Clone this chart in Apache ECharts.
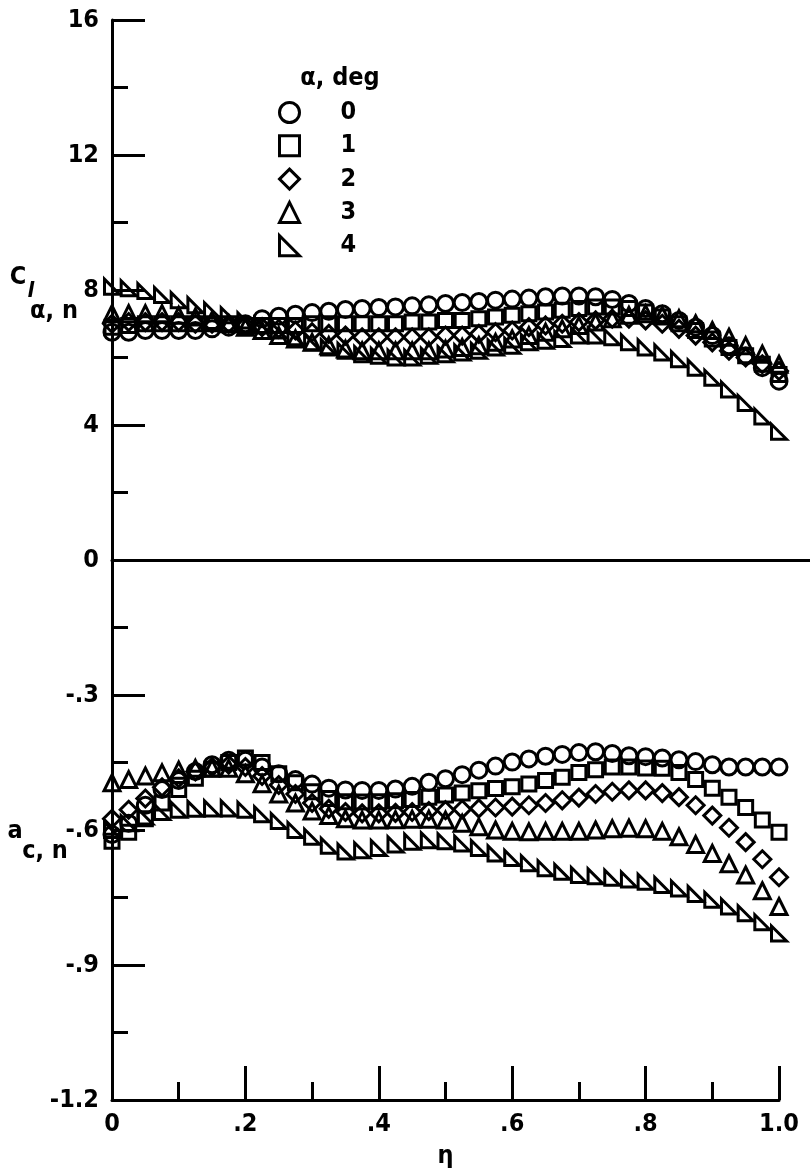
<!DOCTYPE html>
<html>
<head>
<meta charset="utf-8">
<script src="https://cdn.jsdelivr.net/npm/echarts@6/dist/echarts.min.js"></script>
<style>
html,body{margin:0;padding:0;background:#fff;}
#chart{width:810px;height:1174px;}
</style>
</head>
<body>
<div id="chart"></div>
<script>
// spanwise station eta
var eta = [0,0.025,0.05,0.075,0.1,0.125,0.15,0.175,0.2,0.225,0.25,0.275,0.3,0.325,0.35,0.375,0.4,0.425,0.45,0.475,0.5,0.525,0.55,0.575,0.6,0.625,0.65,0.675,0.7,0.725,0.75,0.775,0.8,0.825,0.85,0.875,0.9,0.925,0.95,0.975,1.0];
var alphaNames = ['0','1','2','3','4'];

// C_l alpha,n (upper panel)
var cla0 = [6.75,6.75,6.8,6.8,6.8,6.8,6.85,6.9,7.0,7.15,7.22,7.28,7.33,7.37,7.42,7.45,7.48,7.5,7.53,7.56,7.6,7.63,7.66,7.7,7.73,7.76,7.8,7.82,7.82,7.8,7.72,7.6,7.45,7.3,7.1,6.9,6.65,6.35,6.05,5.7,5.3];
var cla1 = [6.9,6.95,7.0,7.0,7.0,7.0,7.0,7.0,6.95,6.95,6.95,6.95,7.0,7.0,7.0,7.0,7.0,7.0,7.05,7.05,7.1,7.1,7.15,7.2,7.25,7.3,7.35,7.4,7.45,7.5,7.5,7.45,7.35,7.2,7.0,6.8,6.55,6.3,6.05,5.8,5.5];
var cla2 = [7.0,7.05,7.05,7.05,7.05,7.0,7.0,7.0,6.95,6.9,6.85,6.8,6.75,6.7,6.65,6.6,6.6,6.6,6.6,6.6,6.65,6.65,6.7,6.75,6.8,6.9,6.95,7.0,7.05,7.1,7.15,7.15,7.1,7.0,6.85,6.65,6.45,6.2,6.0,5.8,5.6];
var cla3 = [7.3,7.3,7.3,7.3,7.25,7.2,7.1,7.0,6.9,6.8,6.65,6.55,6.45,6.35,6.25,6.2,6.2,6.2,6.2,6.2,6.25,6.3,6.35,6.45,6.55,6.65,6.75,6.85,6.95,7.05,7.15,7.25,7.3,7.25,7.15,7.0,6.8,6.6,6.35,6.1,5.8];
var cla4 = [8.1,8.05,7.97,7.85,7.7,7.55,7.4,7.25,7.1,6.95,6.8,6.6,6.45,6.3,6.2,6.1,6.05,6.0,6.0,6.05,6.1,6.15,6.2,6.3,6.35,6.45,6.5,6.55,6.65,6.65,6.6,6.45,6.3,6.15,5.95,5.7,5.4,5.05,4.65,4.25,3.8];

// a_c,n (lower panel)
var ac0 = [-0.61,-0.585,-0.545,-0.51,-0.49,-0.47,-0.455,-0.445,-0.445,-0.46,-0.475,-0.488,-0.498,-0.507,-0.511,-0.512,-0.512,-0.509,-0.503,-0.494,-0.486,-0.477,-0.467,-0.458,-0.449,-0.442,-0.436,-0.432,-0.428,-0.426,-0.43,-0.435,-0.437,-0.44,-0.444,-0.448,-0.455,-0.46,-0.46,-0.46,-0.46];
var ac1 = [-0.625,-0.605,-0.575,-0.54,-0.51,-0.485,-0.465,-0.45,-0.44,-0.45,-0.475,-0.495,-0.515,-0.53,-0.537,-0.538,-0.537,-0.535,-0.532,-0.527,-0.522,-0.518,-0.513,-0.508,-0.504,-0.498,-0.49,-0.483,-0.472,-0.466,-0.46,-0.46,-0.462,-0.463,-0.472,-0.488,-0.507,-0.527,-0.55,-0.578,-0.605];
var ac2 = [-0.575,-0.555,-0.53,-0.505,-0.485,-0.47,-0.46,-0.455,-0.46,-0.48,-0.5,-0.52,-0.54,-0.553,-0.56,-0.563,-0.563,-0.562,-0.56,-0.558,-0.556,-0.554,-0.552,-0.55,-0.548,-0.545,-0.54,-0.534,-0.528,-0.52,-0.515,-0.512,-0.512,-0.518,-0.527,-0.545,-0.568,-0.595,-0.627,-0.665,-0.705];
var ac3 = [-0.495,-0.488,-0.48,-0.473,-0.467,-0.463,-0.462,-0.463,-0.475,-0.497,-0.52,-0.54,-0.558,-0.568,-0.575,-0.578,-0.578,-0.577,-0.576,-0.576,-0.578,-0.585,-0.593,-0.6,-0.603,-0.604,-0.603,-0.603,-0.603,-0.6,-0.597,-0.596,-0.597,-0.603,-0.615,-0.632,-0.652,-0.675,-0.7,-0.735,-0.77];
var ac4 = [-0.6,-0.585,-0.57,-0.56,-0.555,-0.553,-0.552,-0.552,-0.555,-0.565,-0.58,-0.6,-0.615,-0.635,-0.648,-0.645,-0.64,-0.632,-0.626,-0.623,-0.625,-0.63,-0.64,-0.652,-0.662,-0.674,-0.685,-0.693,-0.7,-0.703,-0.706,-0.71,-0.715,-0.722,-0.73,-0.742,-0.755,-0.77,-0.785,-0.805,-0.83];

var yTopTicks = [0,4,8,12,16];
var xTickLabels = {0:'0',0.2:'.2',0.4:'.4',0.6:'.6',0.8:'.8',1:'1.0'};

var FONT = "'Liberation Sans Narrow','DejaVu Sans Condensed','Arial Narrow',sans-serif";
var INK = '#000';
var symbols = ['circle','rect','diamond','triangle','path://M0,0 L0,10 L10,10 Z'];
var sizes = [16,14,17,16,15];

function pairs(ys){ return eta.map(function(x,i){ return [x, ys[i]]; }); }

var upper = [cla0,cla1,cla2,cla3,cla4];
var lower = [ac0,ac1,ac2,ac3,ac4];
var series = [];
function mk(name, idx, data, gi){
  return {
    type:'scatter', name:name, xAxisIndex:gi, yAxisIndex:gi,
    data:pairs(data), symbol:symbols[idx], symbolSize:sizes[idx],
    itemStyle:{color:'rgba(255,255,255,0)', borderColor:INK, borderWidth:3, opacity:1},
    emphasis:{disabled:true}, silent:true
  };
}
for (var i=0;i<5;i++){ series.push(mk(alphaNames[i], i, upper[i], 0)); }
for (var j=0;j<5;j++){ series.push(mk(alphaNames[j], j, lower[j], 1)); }

var axisLineStyle = {color:INK, width:3};
var labelStyle = {color:INK, fontFamily:FONT, fontSize:25, fontWeight:'bold'};

var chart = echarts.init(document.getElementById('chart'), null, {renderer:'canvas'});
chart.setOption({
  animation:false,
  backgroundColor:'#fff',
  grid:[
    {left:112, top:20, width:698, height:540},
    {left:112, top:560, width:667, height:540}
  ],
  xAxis:[
    {type:'value', gridIndex:0, min:0, max:698/667, axisLine:{show:true, onZero:false, lineStyle:axisLineStyle},
     axisTick:{show:false}, axisLabel:{show:false}, splitLine:{show:false}},
    {type:'value', gridIndex:1, min:0, max:1, interval:0.2,
     axisLine:{show:true, onZero:false, lineStyle:axisLineStyle},
     axisTick:{show:true, inside:true, length:34, lineStyle:axisLineStyle},
     minorTick:{show:true, splitNumber:2, length:18, lineStyle:axisLineStyle},
     splitLine:{show:false},
     axisLabel:Object.assign({margin:12, formatter:function(v){ var k=Math.round(v*10)/10; return xTickLabels[k]!==undefined?xTickLabels[k]:''; }}, labelStyle),
     name:'η', nameLocation:'middle', nameGap:44, nameTextStyle:labelStyle}
  ],
  yAxis:[
    {type:'value', gridIndex:0, min:0, max:16, interval:4,
     axisLine:{show:true, onZero:false, lineStyle:axisLineStyle},
     axisTick:{show:true, inside:true, length:33, lineStyle:axisLineStyle},
     minorTick:{show:true, splitNumber:2, length:16, lineStyle:axisLineStyle},
     splitLine:{show:false},
     axisLabel:Object.assign({margin:13, formatter:function(v){ return yTopTicks.indexOf(v)>=0 ? String(v) : ''; }}, labelStyle)},
    {type:'value', gridIndex:1, min:-1.2, max:0, interval:0.3,
     axisLine:{show:true, onZero:false, lineStyle:axisLineStyle},
     axisTick:{show:true, inside:true, length:33, lineStyle:axisLineStyle},
     minorTick:{show:true, splitNumber:2, length:16, lineStyle:axisLineStyle},
     splitLine:{show:false},
     axisLabel:Object.assign({margin:13, formatter:function(v){ if (Math.abs(v)<1e-9) return ''; return '-' + Math.abs(v).toFixed(1).replace(/^0/,''); }}, labelStyle)}
  ],
  legend:{
    orient:'vertical', left:273, top:95, itemWidth:20, itemHeight:20, itemGap:8.3,
    data:alphaNames, selectedMode:false,
    itemStyle:{borderWidth:3, borderColor:INK, color:'rgba(255,255,255,0)'},
    textStyle:{color:INK, fontFamily:FONT, fontSize:25, fontWeight:'bold', lineHeight:20, padding:[0,0,0,36]}
  },
  graphic:[
    {type:'text', x:340, y:78, style:{text:'α, deg', font:'bold 25px '+FONT, fill:INK, align:'center', verticalAlign:'middle'}},
    {type:'text', x:18, y:277, style:{text:'C', font:'bold 25px '+FONT, fill:INK, align:'center', verticalAlign:'middle'}},
    {type:'text', x:31, y:291, style:{text:'l', font:'italic bold 22px '+FONT, fill:INK, align:'center', verticalAlign:'middle'}},
    {type:'text', x:54, y:311, style:{text:'α, n', font:'bold 25px '+FONT, fill:INK, align:'center', verticalAlign:'middle'}},
    {type:'text', x:15, y:831, style:{text:'a', font:'bold 25px '+FONT, fill:INK, align:'center', verticalAlign:'middle'}},
    {type:'text', x:45, y:851, style:{text:'c, n', font:'bold 25px '+FONT, fill:INK, align:'center', verticalAlign:'middle'}}
  ],
  series:series
});
</script>
</body>
</html>
